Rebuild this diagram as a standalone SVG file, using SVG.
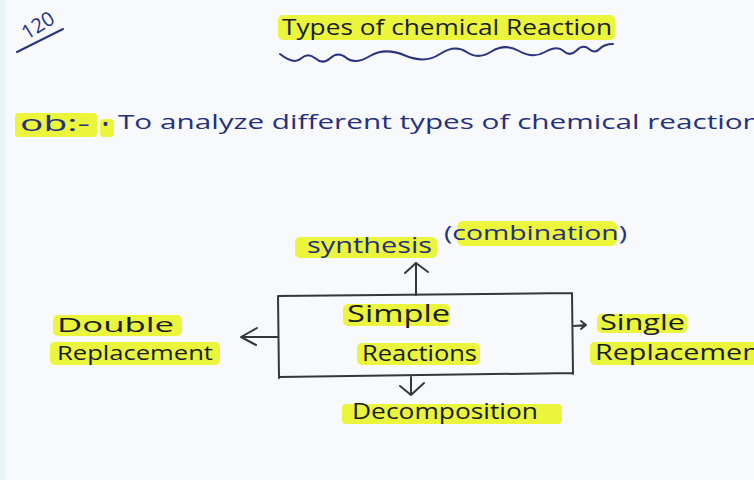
<svg xmlns="http://www.w3.org/2000/svg" width="754" height="480" viewBox="0 0 754 480">
  <defs>
    <style>
      .hl { fill: #eaf53c; }
      .ink { font-family: "Open Sans", "Noto Sans", "Liberation Sans", sans-serif; fill: #181c1f; }
      .blue { font-family: "Open Sans", "Noto Sans", "Liberation Sans", sans-serif; fill: #26307c; }
      .line { fill: none; stroke: #35373b; stroke-width: 2; stroke-linecap: round; stroke-linejoin: round; }
      .bline { fill: none; stroke: #2a347e; stroke-width: 2; stroke-linecap: round; stroke-linejoin: round; }
    </style>
  </defs>
  <rect width="754" height="480" fill="#f7f9fc"/>
  <rect x="0" y="0" width="5" height="480" fill="#eaf3f8"/>

  <g id="page-number">
    <text class="blue" x="39" y="32" font-size="20" text-anchor="middle" transform="rotate(-32 39 27)">120</text>
    <path class="bline" d="M17,52 L63,29"/>
  </g>

  <g id="title">
    <rect class="hl" x="278" y="15" width="337" height="25" rx="5"/>
    <text class="ink" x="282" y="35" font-size="22" textLength="330" lengthAdjust="spacingAndGlyphs">Types of chemical Reaction</text>
    <path class="bline" d="M280,54 Q294,65 301,58.5 Q308,52 315.5,58.5 Q323,65 330.5,58 Q338,51 346.5,58 Q355,65 370,56 Q385,47 405,55.5 Q425,64 440,54 Q455,44 466.5,52 Q478,60 491.5,51.5 Q505,43 519,51 Q533,59 545,52 Q557,45 563.5,51 Q570,57 576.5,50.5 Q583,44 589,49 Q595,54 599.5,49 Q604,44 613,44"/>
  </g>

  <g id="objective">
    <rect class="hl" x="15" y="113" width="82" height="24" rx="4"/>
    <rect class="hl" x="100" y="119" width="14" height="18" rx="4"/>
    <text class="blue" x="20" y="131" font-size="21" textLength="70" lengthAdjust="spacingAndGlyphs">ob:-</text>
    <text class="blue" x="102" y="131" font-size="18">•</text>
    <text class="blue" x="118" y="129" font-size="20" textLength="657" lengthAdjust="spacingAndGlyphs">To analyze different types of chemical reactions</text>
  </g>

  <g id="connectors">
    <path class="line" d="M416,295 L416,263 M405,273 L416,263 L428,272"/>
    <path class="line" d="M411,377 L411,395 M400,386 L411,395 L424,383"/>
    <path class="line" d="M278,337 L241,337 M257,328 L241,337 L256,345"/>
    <path class="line" d="M574,326 L586,325 M581,321 L586,325 L581,329"/>
  </g>

  <g id="node-simple-reactions">
    <path class="line" d="M278,296 L572,293 M572,293 L573,374 M573,373 L279,377 M279,378 L278,296"/>
    <rect class="hl" x="343" y="304" width="107" height="22" rx="5"/>
    <rect class="hl" x="357" y="343" width="123" height="22" rx="5"/>
    <text class="ink" x="347" y="322" font-size="23" textLength="103" lengthAdjust="spacingAndGlyphs">Simple</text>
    <text class="ink" x="362" y="361" font-size="22" textLength="115" lengthAdjust="spacingAndGlyphs">Reactions</text>
  </g>

  <g id="node-synthesis">
    <rect class="hl" x="295" y="237" width="142" height="21" rx="5"/>
    <rect class="hl" x="457" y="221" width="160" height="25" rx="6"/>
    <text class="blue" font-size="21"><tspan x="307" y="253" textLength="125" lengthAdjust="spacingAndGlyphs">synthesis</tspan><tspan x="444" y="240" font-size="20" textLength="183" lengthAdjust="spacingAndGlyphs">(combination)</tspan></text>
  </g>

  <g id="node-double-replacement">
    <rect class="hl" x="53" y="315" width="129" height="21" rx="5"/>
    <rect class="hl" x="50" y="342" width="170" height="23" rx="5"/>
    <text class="ink" font-size="20"><tspan x="57" y="332" textLength="117" lengthAdjust="spacingAndGlyphs">Double</tspan><tspan x="57" y="360" textLength="156" lengthAdjust="spacingAndGlyphs">Replacement</tspan></text>
  </g>

  <g id="node-single-replacement">
    <rect class="hl" x="597" y="314" width="90" height="19" rx="5"/>
    <rect class="hl" x="590" y="342" width="170" height="23" rx="5"/>
    <text class="ink" font-size="22"><tspan x="600" y="330" textLength="85" lengthAdjust="spacingAndGlyphs">Single</tspan><tspan x="595" y="360" textLength="175" lengthAdjust="spacingAndGlyphs">Replacement</tspan></text>
  </g>

  <g id="node-decomposition">
    <rect class="hl" x="342" y="404" width="220" height="20" rx="4"/>
    <text class="ink" x="352" y="419" font-size="22" textLength="186" lengthAdjust="spacingAndGlyphs">Decomposition</text>
  </g>
</svg>
